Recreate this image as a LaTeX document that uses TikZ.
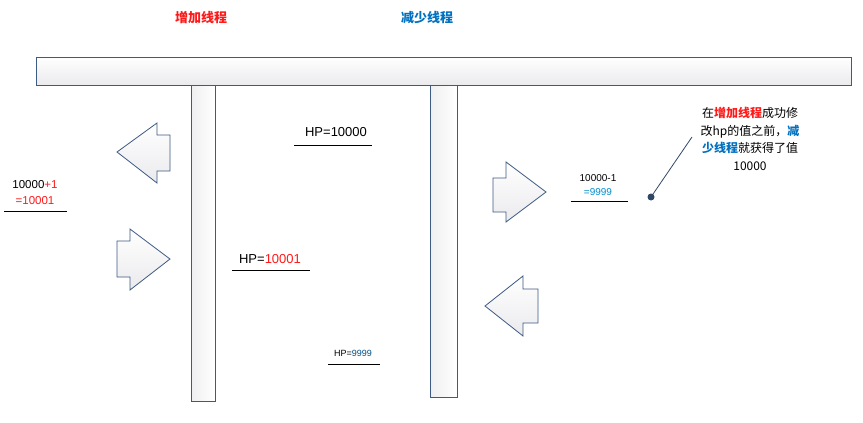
\documentclass[tikz,border=0pt]{standalone}
\usepackage{fontspec}
\setmainfont{Liberation Sans}
\newfontfamily\cjk{Noto Sans CJK SC}
\definecolor{redc}{HTML}{FF1A1A}
\definecolor{bluec}{HTML}{0070C0}
\definecolor{edgec}{HTML}{3C5A82}
\newcommand{\fs}[1]{\fontsize{#1}{#1}\selectfont}
\begin{document}
\begin{tikzpicture}[x=1pt,y=-1pt,
  shp/.style={draw=edgec,line width=0.8pt,top color=white,bottom color=blue!8!gray!15},
  vbar/.style={draw=edgec,line width=0.8pt,left color=blue!6!gray!12,right color=white},
  lbl/.style={inner sep=0pt},
  ul/.style={line width=0.8pt}]
\fill[white] (0,0) rectangle (863,423);
\path[use as bounding box] (0,0) rectangle (863,423);
% bars
\draw[shp] (36,57) rectangle (851,85);
\draw[vbar] (191,85) rectangle (215,401);
\draw[vbar] (430,85) rectangle (457,397);
% arrows
\draw[shp] (117,152) -- (157,123) -- (157,135) -- (170,135) -- (170,171) -- (157,171) -- (157,183) -- cycle;
\draw[shp] (170,259) -- (130,229) -- (130,241) -- (117,241) -- (117,277) -- (130,277) -- (130,290) -- cycle;
\draw[shp] (546,192) -- (506,162) -- (506,178) -- (493,178) -- (493,212) -- (506,212) -- (506,222) -- cycle;
\draw[shp] (485,306) -- (523,276) -- (523,289) -- (538,289) -- (538,323) -- (523,323) -- (523,336) -- cycle;
% titles
\node[lbl,font=\cjk\bfseries\fs{13},text=redc] (t1) at (201,18) {增加线程};
\node[lbl,font=\cjk\bfseries\fs{13},text=bluec] (t2) at (427,18) {减少线程};
% HP labels
\node[lbl,font=\fs{13}] (hp1) at (336,132) {HP=10000};
\draw[ul] (294,145) -- (372,145);
\node[lbl,font=\fs{13}] (hp2) at (270,259) {HP=\textcolor{redc}{10001}};
\draw[ul] (232,270) -- (310,270);
\node[lbl,font=\fs{9}] (hp3) at (353,353) {HP=\textcolor{bluec!70!black}{9999}};
\draw[ul] (328,364) -- (380,364);
\node[lbl,font=\fs{11.5}] (c1) at (35,185) {10000\textcolor{redc}{+1}};
\node[lbl,font=\fs{11.5},text=redc] (c2) at (35,201) {=10001};
\draw[ul] (4,211) -- (67,211);
\node[lbl,font=\fs{10}] (d1) at (598,178) {10000-1};
\node[lbl,font=\fs{10},text=bluec!80!cyan] (d2) at (598,192) {=9999};
\draw[ul] (571,201) -- (628,201);
% callout
\node[align=center,font=\cjk\fontsize{12}{17.5}\selectfont,inner sep=0pt] (note) at (750,139)
 {在{\color{redc}\bfseries 增加线程}成功修\\改hp的值之前，{\color{bluec}\bfseries 减}\\{\color{bluec}\bfseries 少线程}就获得了值\\10000};
\coordinate (ne) at (692,137);
\coordinate (dot) at (651,197);
\fill[edgec!80!black] (dot) circle (3.5);
\draw[edgec!80!black,line width=0.8pt] (dot) -- (ne);
\end{tikzpicture}
\end{document}
